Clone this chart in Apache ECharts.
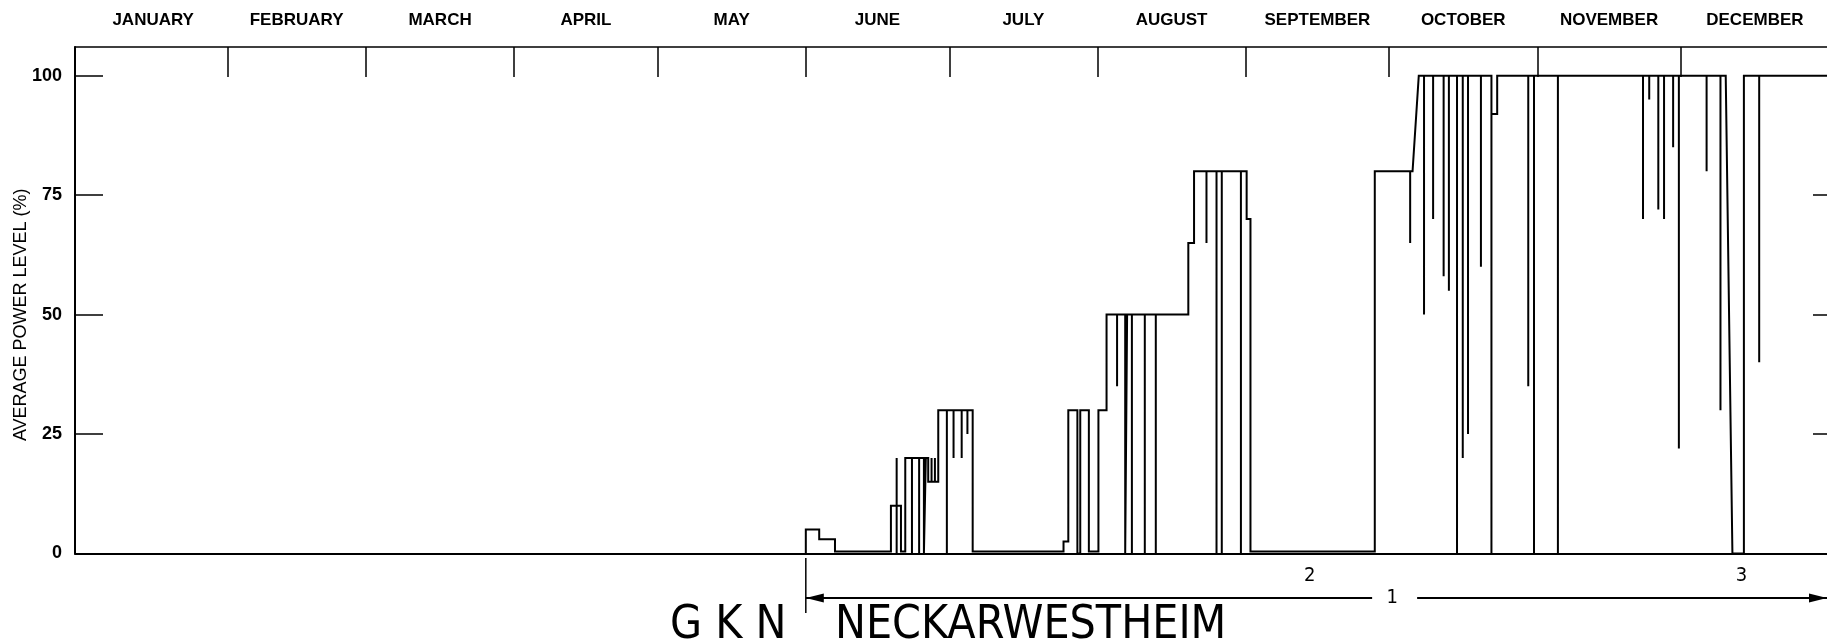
<!DOCTYPE html>
<html><head><meta charset="utf-8">
<script src="https://cdn.jsdelivr.net/npm/echarts@6/dist/echarts.min.js"></script>
<style>html,body{margin:0;padding:0;background:#fff}#c{width:1827px;height:644px}</style>
</head><body><div id="c"></div>
<script>
// ---- data (days counted from 1 January, 1976 leap year) ----
const MONTH_NAMES = ['JANUARY','FEBRUARY','MARCH','APRIL','MAY','JUNE','JULY','AUGUST','SEPTEMBER','OCTOBER','NOVEMBER','DECEMBER'];
const MONTH_START_DAYS = [0,31,60,91,121,152,182,213,244,274,305,335,366];
const Y_TICKS = [0,25,50,75,100];
const RIGHT_TICKS = [25,50,75];
const Y_NAME = 'AVERAGE POWER LEVEL (%)';

// [day, new level] or [rampStartDay, new level, rampEndDay]
const LEVEL_CHANGES = [
  [152.0, 5], [154.8, 3], [158.1, 0.4],
  [169.8, 10], [171.9, 0.4], [172.8, 20], [176.7, 0], [177.1, 20], [177.6, 15], [179.7, 30], [186.9, 0.4],
  [205.9, 2.5], [206.9, 30], [208.8, 0], [209.4, 30], [211.2, 0.4],
  [213.2, 30], [214.9, 50], [218.8, 0], [219.2, 50], [232.0, 65], [233.2, 80], [244.2, 70], [245.0, 0.4],
  [271.0, 80], [278.9, 100, 280.2], [295.4, 92], [296.6, 100],
  [344.4, 0, 345.8], [348.2, 100]
];
// [day, level reached by a short excursion]
const DIPS = [
  [171.0, 20], [171.0, 0], [174.2, 0], [175.7, 0], [178.3, 20], [179.0, 20],
  [181.5, 0], [182.9, 20], [184.6, 20], [185.8, 25],
  [217.1, 35], [220.2, 0], [222.9, 0], [225.2, 0],
  [235.8, 65], [237.9, 0], [239.0, 0], [243.0, 0],
  [278.4, 65], [281.3, 50], [283.2, 70], [285.4, 58], [286.5, 55], [288.2, 0], [289.4, 20], [290.5, 25], [293.2, 60], [295.4, 0],
  [303.1, 35], [304.3, 0], [309.3, 0],
  [327.1, 70], [328.4, 95], [330.3, 72], [331.5, 70], [333.4, 85], [334.6, 22], [340.4, 80], [343.3, 30],
  [351.4, 40]
];
const LAST_DAY = 366;
const PERIOD = { start: 152, end: 366, label: '1', labelDay: 274 };
const NOTES = [['2', 257.0], ['3', 347.3]];
const PLANT_CODE = 'G K N';
const PLANT_NAME = 'NECKARWESTHEIM';

// ---- build polyline from the arrays ----
function buildPath() {
  const ev = [];
  LEVEL_CHANGES.forEach(c => ev.push({ d: c[0], t: 1, v: c[1], end: c[2] }));
  DIPS.forEach(p => ev.push({ d: p[0], t: 0, v: p[1] }));
  ev.sort((a, b) => (a.d - b.d) || (a.t - b.t));
  const pts = []; let cur = 0;
  ev.forEach(e => {
    if (e.t === 1) {
      if (e.end !== undefined) { pts.push([e.d, cur], [e.end, e.v]); }
      else { pts.push([e.d, cur], [e.d, e.v]); }
      cur = e.v;
    } else {
      pts.push([e.d, cur], [e.d, e.v], [e.d, cur]);
    }
  });
  pts.push([LAST_DAY, cur]);
  return pts;
}
const monthMid = MONTH_NAMES.map((m, i) => (MONTH_START_DAYS[i] + MONTH_START_DAYS[i + 1]) / 2);
const FONT = "'Liberation Sans', Arial, sans-serif";
const COND = "'DejaVu Sans Condensed', 'Liberation Sans Narrow', 'DejaVu Sans', sans-serif";

const chart = echarts.init(document.getElementById('c'), null, { renderer: 'canvas' });
chart.setOption({
  animation: false,
  backgroundColor: '#fff',
  grid: { left: 75, right: -2, top: 47, bottom: 90.5, containLabel: false, outerBoundsMode: 'none' },
  xAxis: [
    { type: 'value', min: -0.85, max: 366, position: 'bottom',
      axisLine: { show: true, onZero: false, lineStyle: { color: '#000', width: 2 } },
      axisTick: { show: false }, axisLabel: { show: false }, splitLine: { show: false } },
    { type: 'value', min: -0.85, max: 366, position: 'top',
      axisLine: { show: true, onZero: false, lineStyle: { color: '#000', width: 1.5 } },
      axisTick: { show: true, inside: true, length: 30, lineStyle: { color: '#000', width: 1.5 },
                  customValues: MONTH_START_DAYS.slice(1, 12) },
      axisLabel: { show: true, customValues: monthMid, margin: 18, color: '#000',
                   fontFamily: FONT, fontWeight: 'bold', fontSize: 17,
                   formatter: v => { const i = monthMid.findIndex(m => Math.abs(m - v) < 0.01); return i >= 0 ? MONTH_NAMES[i] : ''; } },
      splitLine: { show: false } }
  ],
  yAxis: [
    { type: 'value', min: 0, max: 106, position: 'left',
      name: Y_NAME, nameLocation: 'middle', nameGap: 45, nameRotate: 90, nameMoveOverlap: false,
      nameTextStyle: { color: '#000', fontFamily: FONT, fontSize: 18, padding: [0, 29, 0, 0] },
      axisLine: { show: true, onZero: false, lineStyle: { color: '#000', width: 2 } },
      axisTick: { show: true, inside: true, length: 28, lineStyle: { color: '#000', width: 1.5 }, customValues: Y_TICKS },
      axisLabel: { show: true, customValues: Y_TICKS, margin: 13, color: '#000', fontFamily: FONT, fontWeight: 'bold', fontSize: 18 },
      splitLine: { show: false } },
    { type: 'value', min: 0, max: 106, position: 'right',
      axisLine: { show: false, onZero: false },
      axisTick: { show: true, inside: true, length: 16, lineStyle: { color: '#000', width: 1.5 }, customValues: RIGHT_TICKS },
      axisLabel: { show: false }, splitLine: { show: false } }
  ],
  series: [{
    type: 'line', data: buildPath(), xAxisIndex: 0, yAxisIndex: 0,
    showSymbol: false, symbol: 'none', clip: false,
    lineStyle: { color: '#000', width: 2, join: 'miter' }
  }]
});

// ---- annotations below the axis, positioned through the x scale ----
const px = d => chart.convertToPixel({ xAxisIndex: 0 }, d);
const xs = px(PERIOD.start), xe = px(PERIOD.end) - 2, xl = px(PERIOD.labelDay);
const ay = 598;
const g = [
  { type: 'line', shape: { x1: xs, y1: 558, x2: xs, y2: 613 }, style: { stroke: '#000', lineWidth: 1.5 } },
  { type: 'line', shape: { x1: xs, y1: ay, x2: xl - 17, y2: ay }, style: { stroke: '#000', lineWidth: 2 } },
  { type: 'line', shape: { x1: xl + 28, y1: ay, x2: xe, y2: ay }, style: { stroke: '#000', lineWidth: 2 } },
  { type: 'polygon', shape: { points: [[xs, ay], [xs + 18, ay - 4.5], [xs + 18, ay + 4.5]] }, style: { fill: '#000' } },
  { type: 'polygon', shape: { points: [[xe, ay], [xe - 18, ay - 4.5], [xe - 18, ay + 4.5]] }, style: { fill: '#000' } },
  { type: 'text', x: xl + 3, y: ay, style: { text: PERIOD.label, fill: '#000', font: "20px " + COND, align: 'center', verticalAlign: 'middle' } },
  { type: 'text', x: 670, y: 626, style: { text: PLANT_CODE, fill: '#000', font: "46px " + COND, align: 'left', verticalAlign: 'middle' } },
  { type: 'text', x: 835, y: 626, style: { text: PLANT_NAME, fill: '#000', font: "46px " + COND, align: 'left', verticalAlign: 'middle' } }
];
NOTES.forEach(n => g.push({ type: 'text', x: px(n[1]) + 2, y: 576, style: { text: n[0], fill: '#000', font: "20px " + COND, align: 'center', verticalAlign: 'middle' } }));
chart.setOption({ graphic: g });
</script>
</body></html>
